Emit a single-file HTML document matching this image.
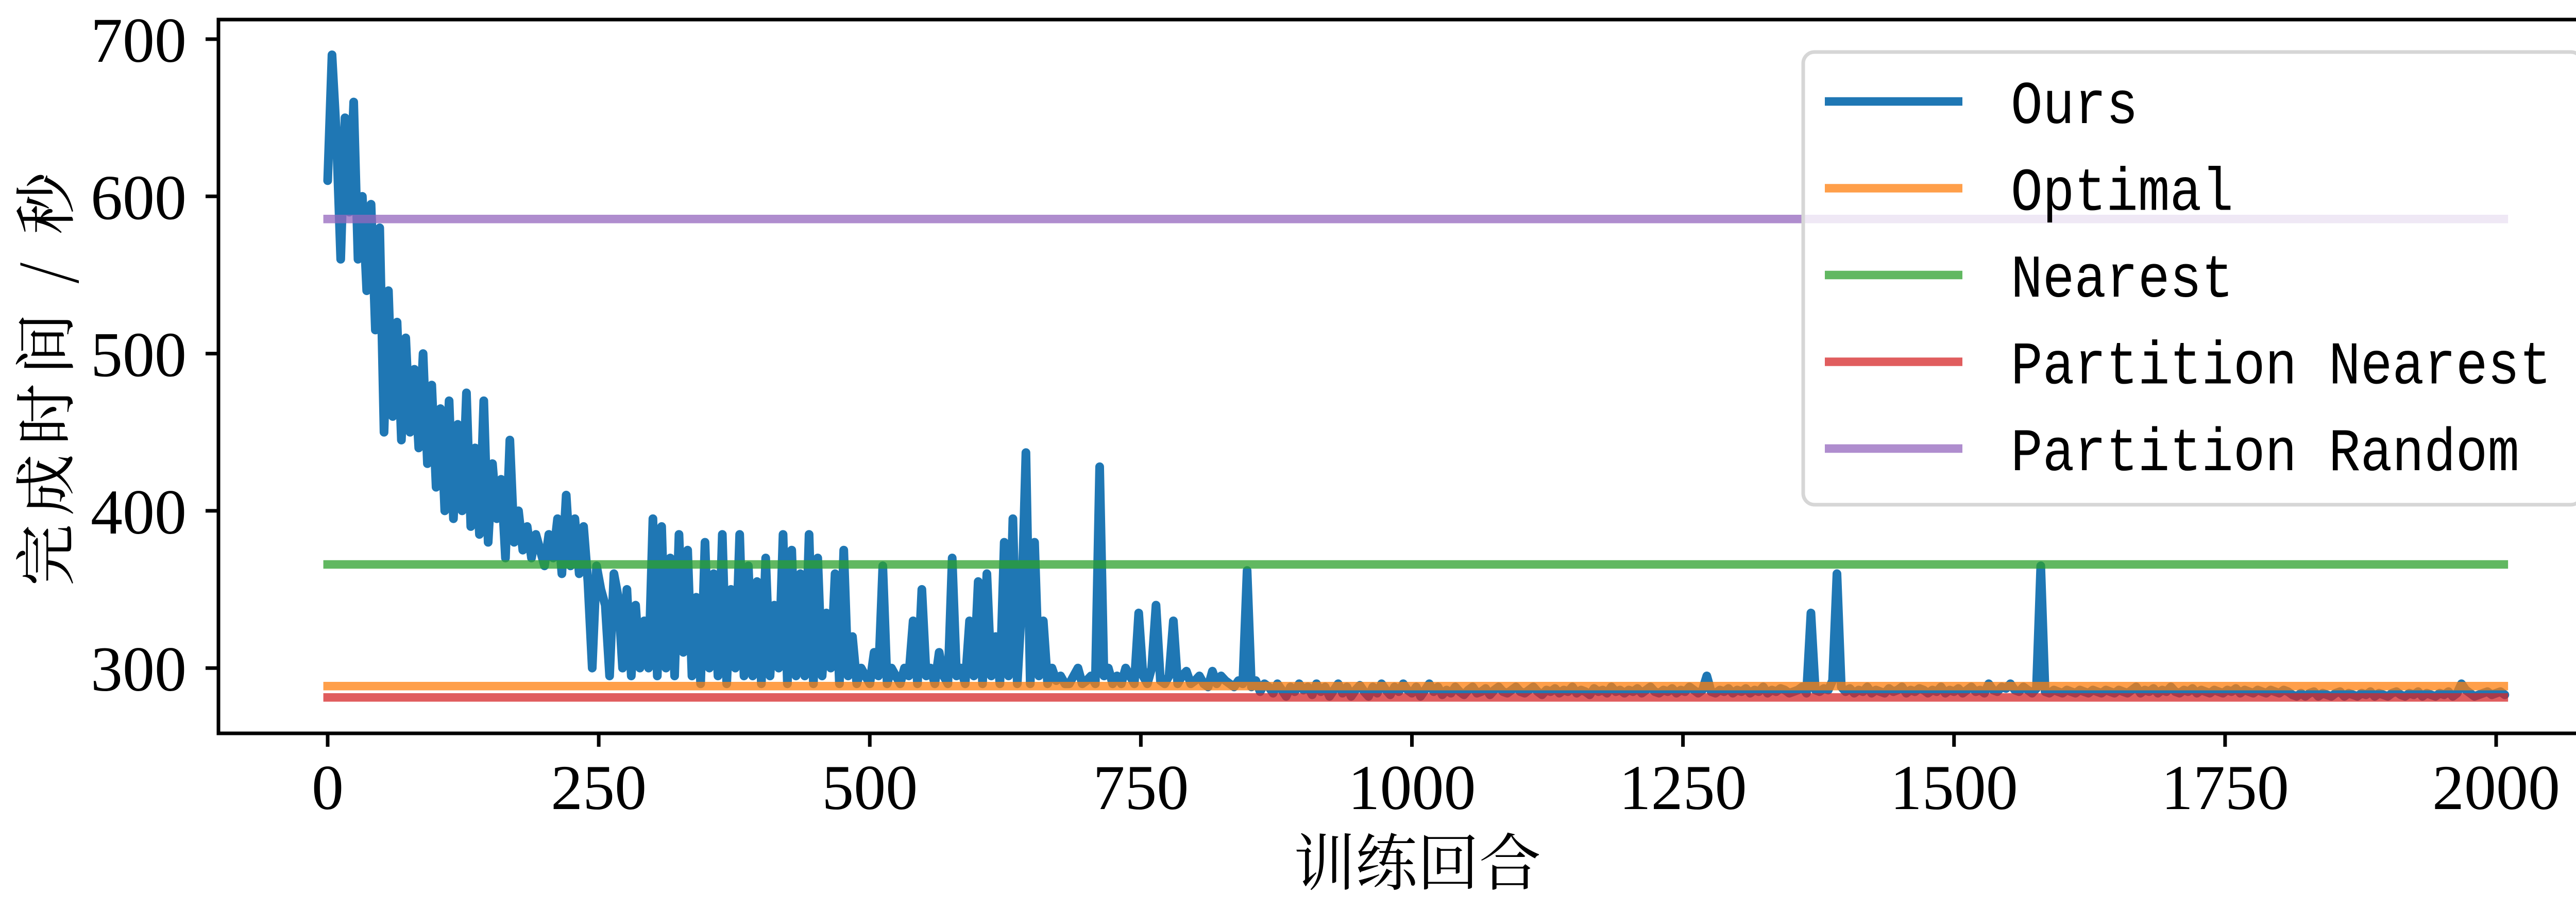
<!DOCTYPE html>
<html><head><meta charset="utf-8"><style>
html,body{margin:0;padding:0;background:#fff;overflow:hidden}
svg{display:block}
.tk{font-family:"Liberation Serif","Noto Serif CJK SC",serif;font-size:124px;fill:#000}
.lg{font-family:"Liberation Mono","Noto Sans CJK SC",monospace;font-size:118px;fill:#000}
.cj{font-family:"Noto Serif CJK SC","Liberation Serif",serif;font-size:120px;fill:#000}
</style></head><body>
<svg id="chart" width="5104" height="1767" viewBox="0 0 5104 1767" xmlns="http://www.w3.org/2000/svg">
<rect width="5104" height="1767" fill="#fff"/>
<g id="plot"></g>
<rect x="424" y="38" width="4650" height="1386" fill="none" stroke="#000" stroke-width="7"/>
<g id="yticks"></g>
<g id="xticks"></g>
<text class="cj" x="2751" y="1718" text-anchor="middle">训练回合</text>
<g transform="translate(132,738) rotate(-90)">
<text class="cj" x="-400" y="0" textLength="530" lengthAdjust="spacing">完成时间</text>
<text class="cj" x="208" y="0" text-anchor="middle">/</text>
<text class="cj" x="283" y="0">秒</text>
</g>
<g id="legend"></g>
</svg>
<script>
const yTicks=[300,400,500,600,700];
const xTicks=[0,250,500,750,1000,1250,1500,1750,2000];
const seriesNames=["Ours","Optimal","Nearest","Partition Nearest","Partition Random"];
const seriesColors=["#1f77b4","#ff7f0e","#2ca02c","#d62728","#9467bd"];
const baselineValues=[288.5,365.9,281.3,585.6];
const episodeStep=4;
const ours=[
610,690,640,560,650,590,660,560,600,540,595,515,580,450,540,460,520,445,510,450,490,440,500,430,480,
415,465,400,470,395,455,400,475,390,440,385,470,380,430,395,420,370,445,380,400,375,390,370,385,375,
365,385,370,395,360,410,365,395,360,390,355,300,365,350,340,295,360,345,300,350,295,340,300,330,300,
395,295,390,300,370,295,385,310,375,295,345,290,380,300,360,295,385,290,350,300,385,295,365,295,355,
290,370,295,340,300,385,290,375,295,360,295,385,290,370,295,335,300,360,290,375,295,320,290,300,295,
290,310,295,365,290,300,295,290,300,295,330,290,350,295,300,290,310,295,290,370,295,300,290,330,295,
355,290,360,295,320,290,380,295,395,290,340,437,290,380,295,330,290,300,292,295,290,290,295,300,290,
292,295,290,428,295,300,290,295,290,300,295,290,335,295,290,300,340,292,290,295,330,290,295,298,290,
292,295,290,288,298,290,295,292,290,288,292,290,362,288,292,285,290,288,284,290,286,282,288,285,290,
286,288,283,290,285,288,282,286,290,284,288,282,286,289,285,282,288,284,290,286,283,288,285,290,286,
284,288,282,286,290,285,288,283,286,284,288,285,283,286,288,284,285,287,283,286,288,285,284,286,288,
285,284,286,288,285,283,286,285,287,284,286,285,288,284,286,285,283,287,285,286,284,288,285,286,284,
286,285,287,284,286,288,285,284,286,285,287,284,286,285,288,286,284,286,295,285,284,286,285,287,284,
286,285,287,284,286,285,288,284,286,285,287,286,284,285,286,288,284,335,286,285,287,286,292,360,288,
285,287,284,286,285,288,284,286,285,284,287,285,286,288,284,286,285,287,286,284,286,285,288,284,286,
285,287,284,286,288,285,286,284,290,286,285,288,287,290,286,285,288,286,284,287,365,285,284,286,285,
284,286,285,284,286,285,284,286,285,284,286,285,284,286,285,284,286,288,284,286,285,287,284,286,285,
288,285,284,286,285,287,284,286,285,284,286,285,284,286,285,287,284,286,285,284,286,285,284,286,285,
284,286,285,283,282,284,282,284,285,282,284,283,282,284,285,282,284,283,282,284,283,285,282,284,283,
282,284,285,283,282,284,283,285,282,284,283,282,284,283,285,282,284,290,286,284,282,283,284,285,283,
284,285,283];
const NS="http://www.w3.org/2000/svg";
const xs=v=>636+v*2.1045;
const ys=v=>76+(700-v)*3.053;
function mk(tag,attrs,parent){const e=document.createElementNS(NS,tag);for(const k in attrs)e.setAttribute(k,attrs[k]);parent.appendChild(e);return e;}
const plot=document.getElementById('plot');
let d="";
ours.forEach((v,i)=>{d+=(i?"L":"M")+xs(i*episodeStep).toFixed(1)+" "+ys(v).toFixed(1);});
const ol=mk('path',{d:d,fill:"none",stroke:seriesColors[0],"stroke-width":17,"stroke-linejoin":"round","stroke-linecap":"round"},plot);


baselineValues.forEach((v,i)=>{
  const l=mk('line',{x1:xs(-4),x2:xs(2011),y1:ys(v),y2:ys(v),stroke:seriesColors[i+1],"stroke-width":16.5,"stroke-opacity":0.75},plot);
  
  
});
const yg=document.getElementById('yticks');
yTicks.forEach(v=>{
  const t=mk('line',{x1:399,x2:424,y1:ys(v),y2:ys(v),stroke:"#000","stroke-width":7},yg);
  
  
  const tx=mk('text',{x:362,y:ys(v)+44,"text-anchor":"end",class:"tk"},yg);tx.textContent=v;
  
  
});
const xg=document.getElementById('xticks');
xTicks.forEach(v=>{
  const t=mk('line',{x1:xs(v),x2:xs(v),y1:1424,y2:1450,stroke:"#000","stroke-width":7},xg);
  
  
  const tx=mk('text',{x:xs(v),y:1571,"text-anchor":"middle",class:"tk"},xg);tx.textContent=v;
  
  
});
const lg=document.getElementById('legend');
const box=mk('rect',{x:3500,y:101,width:1512,height:879,rx:22,fill:"#fff","fill-opacity":0.8,stroke:"#d6d6d6","stroke-width":7},lg);


seriesNames.forEach((n,i)=>{
  const y=197+i*168.5;
  const h=mk('line',{x1:3542,x2:3809,y1:y,y2:y,stroke:seriesColors[i],"stroke-width":16.5,"stroke-opacity":i?0.75:1},lg);
  
  
  const t=mk('text',{x:3903,y:y+42,class:"lg",textLength:(n.length*61.7).toFixed(0),lengthAdjust:"spacingAndGlyphs"},lg);
  t.textContent=n;
  
  
});
</script>
</body></html>
